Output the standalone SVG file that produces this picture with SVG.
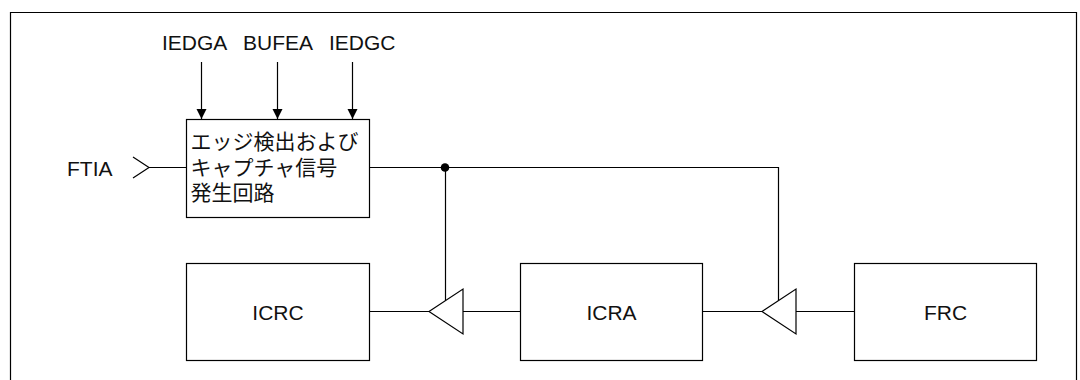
<svg xmlns="http://www.w3.org/2000/svg" width="1080" height="380" viewBox="0 0 1080 380">
  <defs>
    <style>
      .line { fill: none; stroke: #000; stroke-width: 1.2; }
      .box { fill: #fff; stroke: #000; stroke-width: 1.2; }
      .lbl { font-family: "Liberation Sans", Arial, sans-serif; font-size: 21px; fill: #111; }
      .jp { font-family: "Noto Sans CJK JP", "Noto Sans CJK SC", sans-serif; font-size: 21px; fill: #111; }
      .mid { text-anchor: middle; }
    </style>
    <marker id="arr" viewBox="0 0 10 14" refX="10" refY="7" markerWidth="10" markerHeight="14" markerUnits="userSpaceOnUse" orient="auto">
      <path d="M0,2 L10,7 L0,12 Z" fill="#000"/>
    </marker>
  </defs>
  <rect width="1080" height="380" fill="#fff"/>

  <g id="frame">
    <path class="line" d="M10.5,380 V12.5 H1076.5 V380"/>
  </g>

  <g id="connectors">
    <line class="line" x1="201.5" y1="62" x2="201.5" y2="119" marker-end="url(#arr)"/>
    <line class="line" x1="277.5" y1="62" x2="277.5" y2="119" marker-end="url(#arr)"/>
    <line class="line" x1="352.5" y1="62" x2="352.5" y2="119" marker-end="url(#arr)"/>
    <path class="line" d="M133,157 L149,167.5 L133,178"/>
    <line class="line" x1="149" y1="167.5" x2="186" y2="167.5"/>
    <path class="line" d="M369,167.5 H778.5 V301"/>
    <line class="line" x1="445.5" y1="167.5" x2="445.5" y2="301"/>
    <circle cx="445" cy="167.5" r="4.3" fill="#000"/>
    <line class="line" x1="369" y1="311.5" x2="429" y2="311.5"/>
    <line class="line" x1="463" y1="311.5" x2="520" y2="311.5"/>
    <line class="line" x1="703" y1="311.5" x2="762" y2="311.5"/>
    <line class="line" x1="796" y1="311.5" x2="854" y2="311.5"/>
  </g>

  <g id="buffer1">
    <path class="box" d="M429,311.5 L463,289 V334 Z"/>
  </g>
  <g id="buffer2">
    <path class="box" d="M762,311.5 L796,289 V334 Z"/>
  </g>

  <g id="inputs">
    <text class="lbl" x="162" y="50">IEDGA</text>
    <text class="lbl" x="243" y="50">BUFEA</text>
    <text class="lbl" x="329" y="50">IEDGC</text>
    <text class="lbl" x="67" y="176">FTIA</text>
  </g>

  <g id="edge-detect">
    <rect class="box" x="186.5" y="119.5" width="183" height="98"/>
    <text class="jp" x="190.5" y="149">エッジ検出および</text>
    <text class="jp" x="190.5" y="174.5">キャプチャ信号</text>
    <text class="jp" x="190.5" y="200">発生回路</text>
  </g>

  <g id="icrc">
    <rect class="box" x="186.5" y="263.5" width="183" height="97"/>
    <text class="lbl mid" x="278" y="320">ICRC</text>
  </g>
  <g id="icra">
    <rect class="box" x="520.5" y="263.5" width="182" height="97"/>
    <text class="lbl mid" x="611.5" y="320">ICRA</text>
  </g>
  <g id="frc">
    <rect class="box" x="854.5" y="263.5" width="182" height="97"/>
    <text class="lbl mid" x="945.5" y="320">FRC</text>
  </g>
</svg>
